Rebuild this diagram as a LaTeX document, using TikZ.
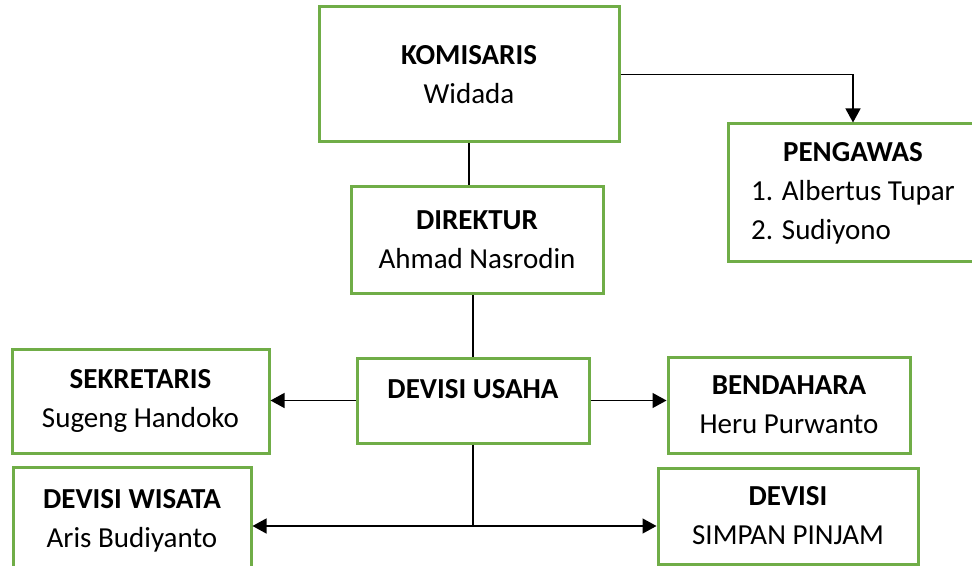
\documentclass[tikz,border=0pt]{standalone}
\usepackage{fontspec}
\setmainfont{Carlito}
\usetikzlibrary{arrows.meta}
\definecolor{boxgreen}{RGB}{112,173,71}

\begin{document}
\begin{tikzpicture}[x=0.5pt,y=-0.5pt,
      font=\fontsize{14.5}{19.5}\selectfont,
      jabatan/.style={draw=boxgreen,line width=1.5pt,align=center,inner sep=0pt},
      garis/.style={line width=0.65pt},
      panah/.style={garis,-{Triangle[length=7pt,width=7.5pt]}},
      duapanah/.style={garis,{Triangle[length=7pt,width=7.5pt]}-{Triangle[length=7pt,width=7.5pt]}}]
      \useasboundingbox (0,0) rectangle (972,566);
      \node[jabatan,minimum width=150pt,minimum height=67.5pt] (komisaris) at (469,74.5) {\textbf{KOMISARIS}\\Widada};
      \node[jabatan,minimum width=125pt,minimum height=69pt] (pengawas) at (853,193)
        {\begin{tabular}{@{}l@{}}\multicolumn{1}{@{}c@{}}{\textbf{PENGAWAS}}\\1. Albertus Tupar\\2. Sudiyono\end{tabular}};
      \node[jabatan,minimum width=126pt,minimum height=53pt] (direktur) at (477,240) {\textbf{DIREKTUR}\\Ahmad Nasrodin};
      \node[jabatan,minimum width=116pt,minimum height=42.5pt,text depth=11.8pt] (usaha) at (473,400.5) {\textbf{DEVISI USAHA}};
      \node[jabatan,minimum width=128.5pt,minimum height=52pt] (sekretaris) at (140.5,401) {\textbf{SEKRETARIS}\\Sugeng Handoko};
      \node[jabatan,minimum width=121pt,minimum height=48pt] (bendahara) at (789,405) {\textbf{BENDAHARA}\\Heru Purwanto};
      \node[jabatan,minimum width=119pt,minimum height=54pt] (wisata) at (132,521) {\textbf{DEVISI WISATA}\\Aris Budiyanto};
      \node[jabatan,minimum width=130pt,minimum height=48pt] (simpan) at (788,516) {\textbf{DEVISI}\\SIMPAN PINJAM};
      \coordinate (cabang) at (usaha.south |- 0,526);
      \draw[panah] (komisaris.east) -| (pengawas.north);
      \draw[garis] (komisaris.south) -- (komisaris.south |- direktur.north);
      \draw[garis] (usaha.north) -- (usaha.north |- direktur.south);
      \draw[panah] (usaha.west) -- (usaha.west -| sekretaris.east);
      \draw[panah] (usaha.east) -- (usaha.east -| bendahara.west);
      \draw[garis] (usaha.south) -- (cabang);
      \draw[duapanah] (wisata.east |- cabang) -- (simpan.west |- cabang);
\end{tikzpicture}
\end{document}
